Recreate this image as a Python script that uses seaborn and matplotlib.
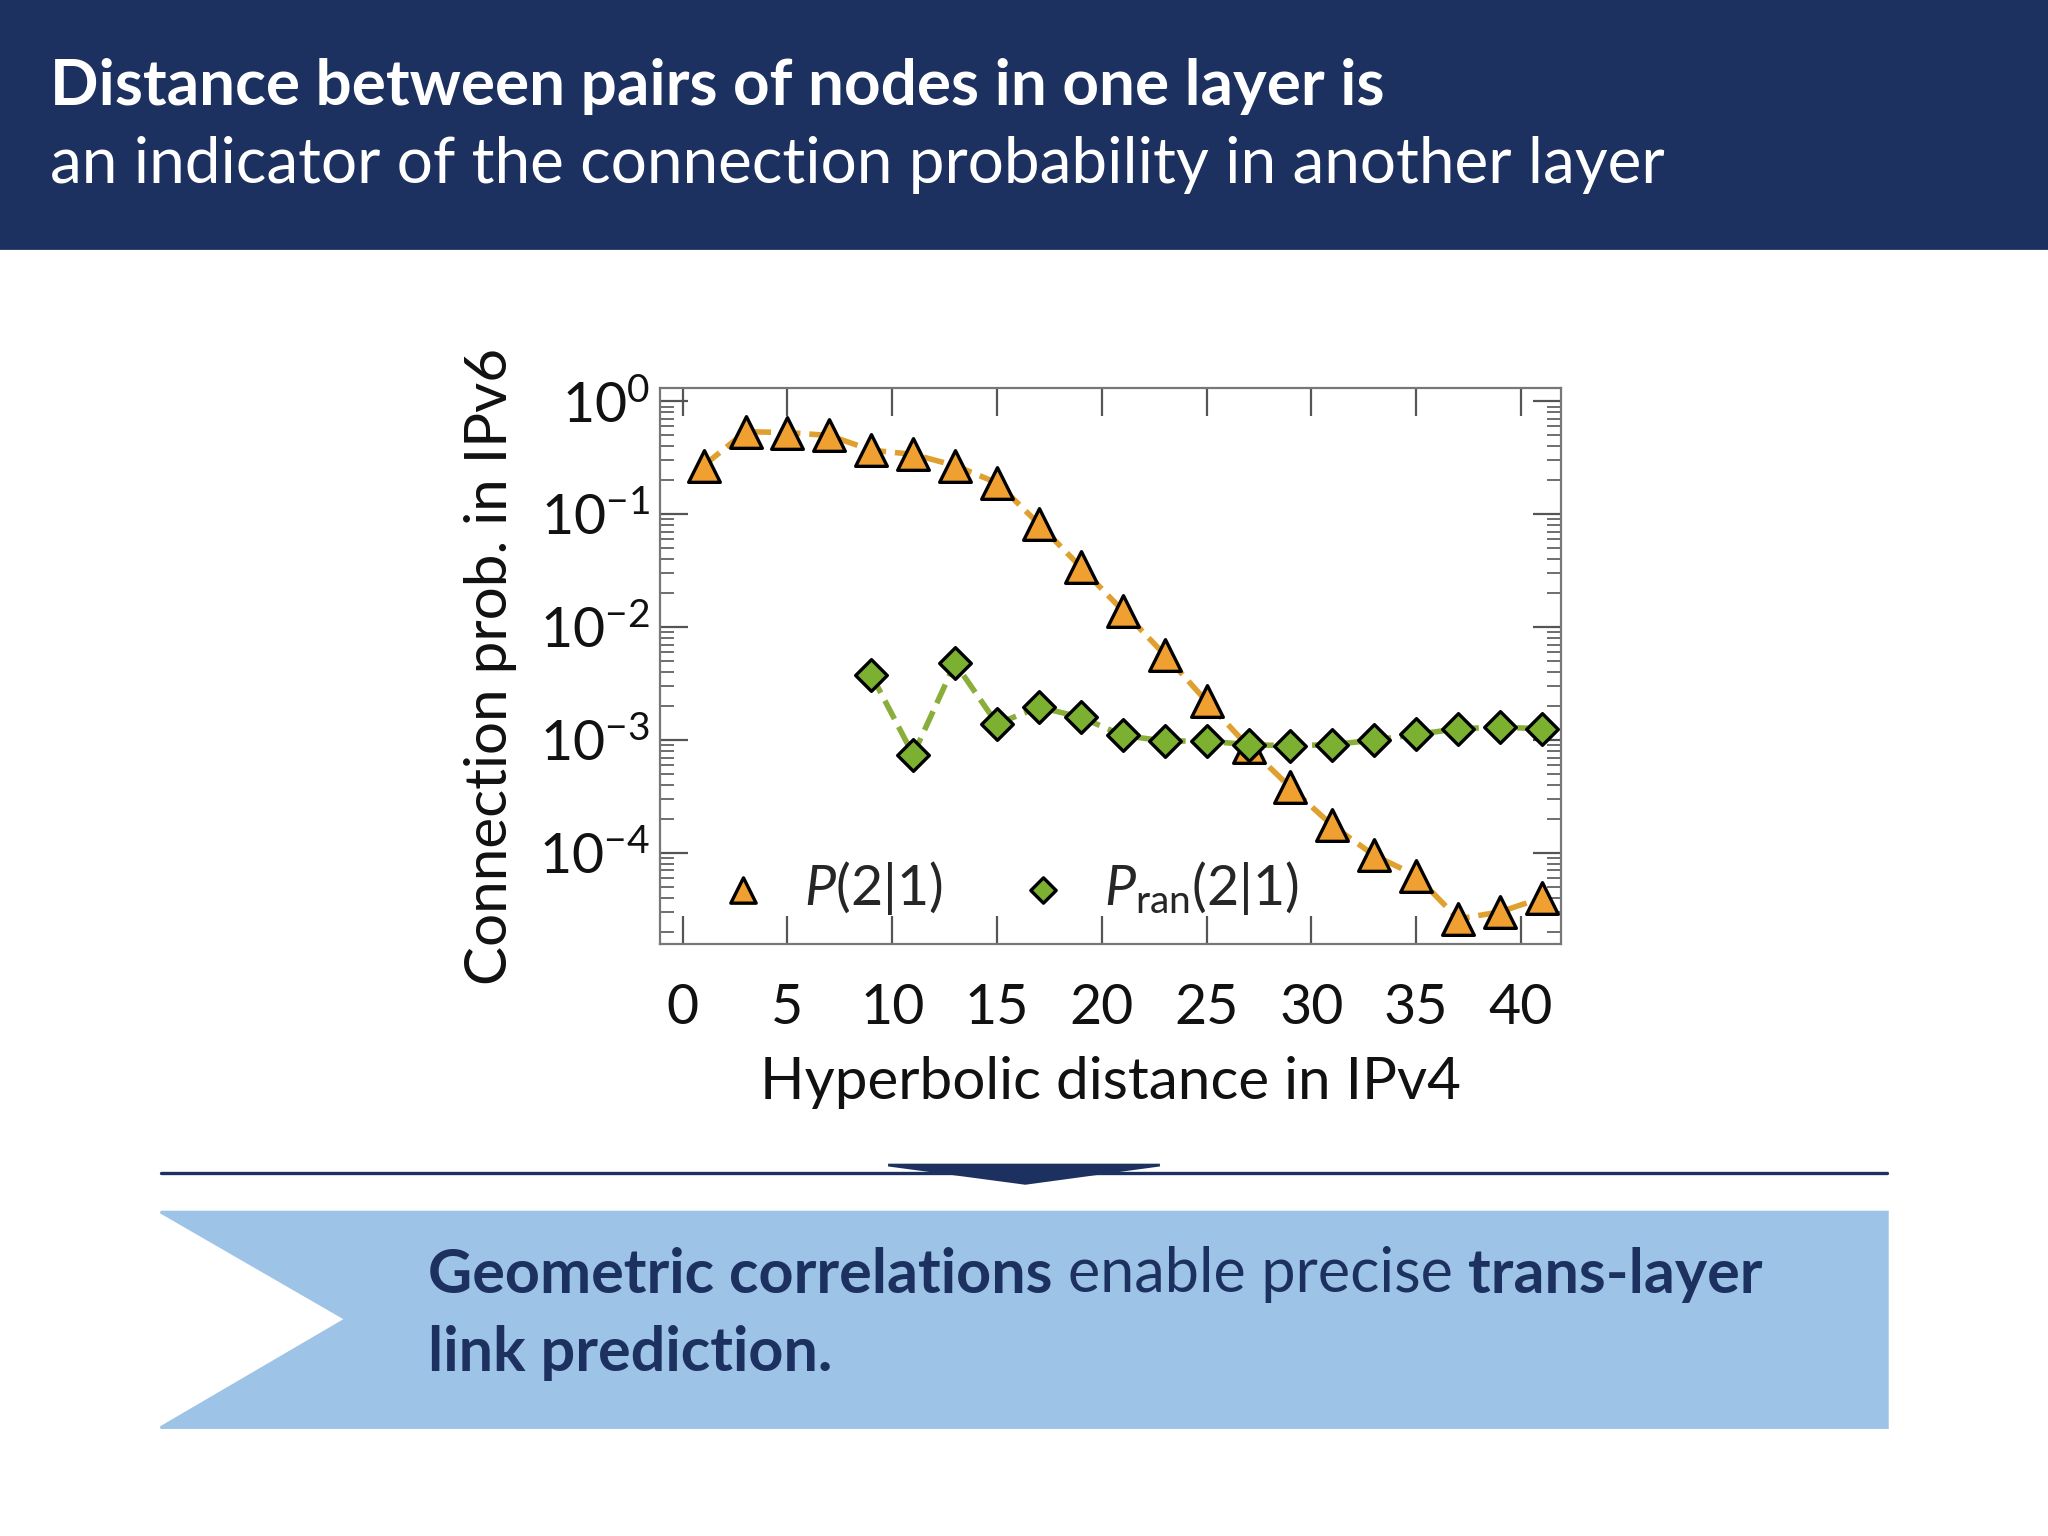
import matplotlib
matplotlib.use("Agg")
import matplotlib.pyplot as plt
import seaborn as sns
import pandas as pd
import numpy as np
from matplotlib.patches import Rectangle, Polygon
from matplotlib.ticker import LogLocator, NullFormatter

x_p = [1, 3, 5, 7, 9, 11, 13, 15, 17, 19, 21, 23, 25, 27, 29, 31, 33, 35, 37, 39, 41]
y_p = [0.27, 0.54, 0.53, 0.50, 0.37, 0.34, 0.27, 0.19, 0.082, 0.034, 0.014, 0.0057,
       0.0022, 8.7e-4, 3.8e-4, 1.75e-4, 9.5e-5, 6.3e-5, 2.6e-5, 3.0e-5, 4.0e-5]
x_r = [9, 11, 13, 15, 17, 19, 21, 23, 25, 27, 29, 31, 33, 35, 37, 39, 41]
y_r = [0.0038, 7.4e-4, 0.0048, 0.00139, 0.00196, 0.00159, 0.0011, 9.8e-4, 9.8e-4,
       9.1e-4, 8.9e-4, 9.1e-4, 1.0e-3, 1.12e-3, 1.26e-3, 1.3e-3, 1.26e-3]
x_ticks = [0, 5, 10, 15, 20, 25, 30, 35, 40]

sns.set_theme(style="white")
plt.rcParams['font.family'] = ['Lato', 'DejaVu Sans']
plt.rcParams['mathtext.fontset'] = 'custom'
plt.rcParams['mathtext.rm'] = 'Lato'
plt.rcParams['mathtext.it'] = 'Lato:italic'

W, H = 1568, 1176
fig = plt.figure(figsize=(10.24, 7.68), dpi=200)
def fx(px): return px / W
def fy(py): return 1 - py / H

navy = "#1d3160"
fig.patches.append(Rectangle((0, fy(190)), 1, 190 / H, transform=fig.transFigure, color=navy, zorder=0))
fig.text(fx(38), fy(66), "Distance between pairs of nodes in one layer is", color="white",
         fontsize=23, fontweight="bold", va="center", ha="left")
fig.text(fx(38), fy(126), "an indicator of the connection probability in another layer", color="white",
         fontsize=23, fontweight="normal", va="center", ha="left")

fig.lines.append(plt.Line2D([fx(123), fx(1445)], [fy(898), fy(898)], transform=fig.transFigure, color=navy, lw=1.2))
fig.patches.append(Polygon([(fx(680), fy(892)), (fx(888), fy(892)), (fx(785), fy(906))],
                           closed=True, transform=fig.transFigure, color=navy))
fig.patches.append(Polygon([(fx(123), fy(928)), (fx(1445), fy(928)), (fx(1445), fy(1093)),
                            (fx(123), fy(1093)), (fx(265), fy(1010))],
                           closed=True, transform=fig.transFigure, color="#9dc3e6"))
fs = 22
renderer = fig.canvas.get_renderer()
xcur = fx(328)
for txt, wt in [("Geometric correlations ", "bold"), ("enable precise ", "normal"), ("trans-layer", "bold")]:
    t = fig.text(xcur, fy(976), txt, color=navy, fontsize=fs, fontweight=wt, va="center")
    bb = t.get_window_extent(renderer)
    xcur += bb.width / fig.bbox.width
fig.text(fx(328), fy(1036), "link prediction.", color=navy, fontsize=fs, fontweight="bold", va="center")

ax = fig.add_axes([fx(505), fy(723), fx(1195) - fx(505), (723 - 297) / H])
dfp = pd.DataFrame({"x": x_p, "y": y_p})
dfr = pd.DataFrame({"x": x_r, "y": y_r})
sns.lineplot(data=dfp, x="x", y="y", ax=ax, color="#e0a030", lw=2, linestyle="--")
sns.lineplot(data=dfr, x="x", y="y", ax=ax, color="#8aae3a", lw=2, linestyle="--")
ax.scatter(x_p, y_p, marker="^", s=130, color="#f0a030", edgecolor="black", lw=1.2, zorder=5, label=r"$P$(2|1)")
ax.scatter(x_r, y_r, marker="D", s=65, color="#7cb030", edgecolor="black", lw=1.2, zorder=5, label=r"$P_{\rm ran}$(2|1)")
ax.set_yscale("log")
ax.set_xlim(-1.1, 41.9)
ax.set_ylim(10**-4.81, 10**0.12)
ax.set_xticks(x_ticks)
ax.set_yticks([1, 1e-1, 1e-2, 1e-3, 1e-4])
ax.set_yticklabels([r"$10^{0}$", r"$10^{-1}$", r"$10^{-2}$", r"$10^{-3}$", r"$10^{-4}$"])
ax.yaxis.set_minor_locator(LogLocator(base=10, subs=np.arange(2, 10), numticks=20))
ax.yaxis.set_minor_formatter(NullFormatter())
ax.tick_params(axis="both", which="both", direction="in", top=True, right=True, left=True, bottom=True,
               colors="#555555", labelcolor="#111111", labelsize=20)
ax.tick_params(which="major", length=10, width=0.8)
ax.tick_params(which="minor", length=5, width=0.6)
ax.tick_params(axis="x", pad=14)
for s in ax.spines.values():
    s.set_color("#777777"); s.set_linewidth(0.8)
ax.set_xlabel("Hyperbolic distance in IPv4", fontsize=21, color="#111111", labelpad=8)
ax.set_ylabel("Connection prob. in IPv6", fontsize=21, color="#111111", labelpad=8)
ax.legend(loc="lower left", ncol=2, frameon=False, fontsize=20, handletextpad=0.1,
          columnspacing=0.8, borderaxespad=0.1, markerscale=0.8)
fig.savefig("out.png", dpi=200)
